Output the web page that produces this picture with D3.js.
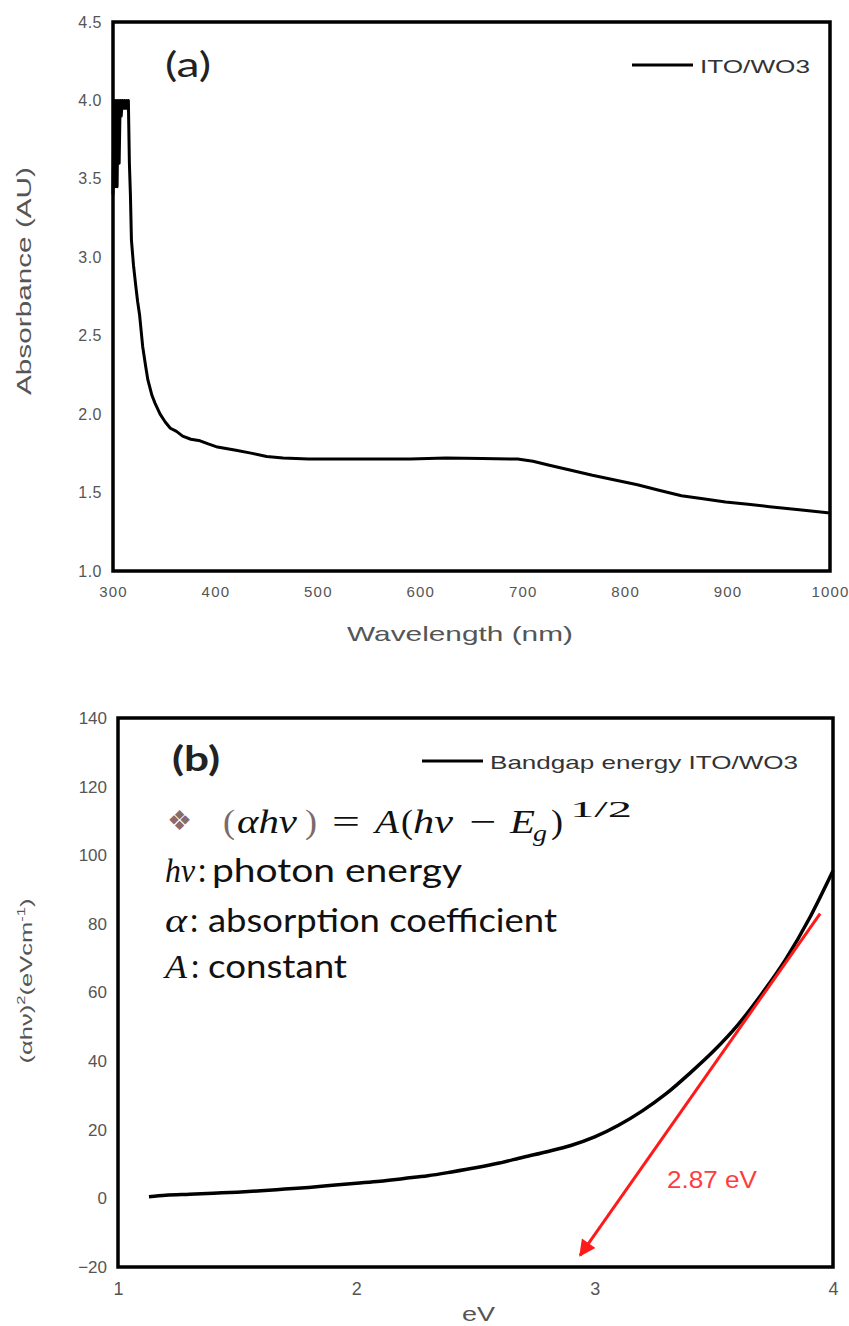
<!DOCTYPE html>
<html>
<head>
<meta charset="utf-8">
<script src="https://cdn.jsdelivr.net/npm/d3@7"></script>
<style>
  body { margin: 0; background: #fff; }
  .tick text { fill: #555; font-family: "Liberation Sans", Arial, sans-serif; }
  .lbl { fill: #555; font-family: "Liberation Sans", Arial, sans-serif; }
</style>
</head>
<body>
<svg id="graph" width="849" height="1326"></svg>
<script>
// ---- panel (a) absorbance data ----
var wavelength = [300,301,302,303,304,305,306,307,308,309,310,311,312,313,314,315,316,317,318,320,322,324,326,329,332,334,338,341,346,351,356,362,368,376,385,393,402,420,436,450,466,491,520,552,590,625,660,695,710,725,745,768,790,812,833,855,876,898,920,941,970,1000]
var absorbance = [3.40,4.0,3.45,4.0,3.45,4.0,3.6,4.0,3.9,4.0,3.95,4.0,3.95,4.0,3.95,4.0,3.6,3.40,3.11,2.95,2.83,2.72,2.63,2.43,2.30,2.22,2.12,2.07,2.00,1.95,1.91,1.89,1.86,1.84,1.83,1.81,1.79,1.77,1.75,1.73,1.72,1.714,1.714,1.714,1.714,1.72,1.717,1.714,1.70,1.676,1.645,1.61,1.58,1.55,1.515,1.48,1.46,1.44,1.425,1.41,1.39,1.37]
var xTicksA = [300,400,500,600,700,800,900,1000]
var yTicksA = [1.0,1.5,2.0,2.5,3.0,3.5,4.0,4.5]

// ---- panel (b) bandgap data ----
var energy = [1.13,1.2,1.3,1.4,1.5,1.6,1.7,1.8,1.9,2.0,2.1,2.2,2.3,2.4,2.5,2.6,2.7,2.8,2.9,3.0,3.1,3.2,3.3,3.4,3.5,3.6,3.7,3.8,3.9,4.0]
var ahv2 = [0.5,0.9,1.2,1.5,1.8,2.2,2.7,3.2,3.8,4.4,5.0,5.8,6.6,7.7,8.9,10.3,12.0,13.6,15.4,17.9,21.3,25.5,30.5,36.5,43.0,50.5,59.5,69.5,81.5,95.5]
var xTicksB = [1,2,3,4]
var yTicksB = [-20,0,20,40,60,80,100,120,140]
var tangent = [[3.946,83.0],[2.939,-16.6]]

var svg = d3.select("#graph")

function stretchText(x, y, str, size, len, font){
  return svg.append("text")
    .attr("x",x).attr("y",y)
    .attr("textLength",len).attr("lengthAdjust","spacingAndGlyphs")
    .style("font-family",font).style("font-size",size+"px")
    .text(str)
}

// ================= panel (a) =================
var xA = d3.scaleLinear().domain([300,1000]).range([113,830])
var yA = d3.scaleLinear().domain([1.0,4.5]).range([571,22])

svg.append("g")
  .call(d3.axisLeft(yA).tickValues(yTicksA).tickFormat(d3.format(".1f")).tickSize(0).tickPadding(11))
  .call(g=>g.select(".domain").remove())
  .selectAll("text").style("font-size","16px").style("letter-spacing","0.5px")
  .attr("transform","translate(113,0)")

svg.append("g")
  .attr("transform","translate(0,571)")
  .call(d3.axisBottom(xA).tickValues(xTicksA).tickFormat(d3.format("d")).tickSize(0).tickPadding(15))
  .call(g=>g.select(".domain").remove())
  .selectAll("text").style("font-size","15px").style("letter-spacing","1.2px")

var lineA = d3.line().x((d,i)=>xA(wavelength[i])).y(d=>yA(d))
svg.append("path")
  .datum(absorbance)
  .attr("d",lineA)
  .attr("fill","none")
  .attr("stroke","#000")
  .attr("stroke-width",3)
  .attr("stroke-linejoin","round")

svg.append("rect")
  .attr("x",113).attr("y",22)
  .attr("width",717).attr("height",549)
  .attr("fill","none").attr("stroke","#000").attr("stroke-width",3.5)

stretchText(165,77,"(a)",34,46,"Lato, 'Open Sans', sans-serif").style("fill","#222")

svg.append("line")
  .attr("x1",632).attr("x2",693).attr("y1",65).attr("y2",65)
  .attr("stroke","#000").attr("stroke-width",3)
stretchText(700,73,"ITO/WO3",18,110,"'Liberation Sans', Arial, sans-serif").style("fill","#333")

stretchText(347,641,"Wavelength (nm)",21,226,"'Liberation Sans', Arial, sans-serif").style("fill","#555")

svg.append("text")
  .attr("class","lbl")
  .attr("transform","translate(31,281) rotate(-90)")
  .attr("text-anchor","middle")
  .attr("textLength",228).attr("lengthAdjust","spacingAndGlyphs")
  .text("Absorbance (AU)")
  .style("font-size","21px")

// ================= panel (b) =================
var xB = d3.scaleLinear().domain([1,4]).range([118,833])
var yB = d3.scaleLinear().domain([-20,140]).range([1267,718])

svg.append("g")
  .call(d3.axisLeft(yB).tickValues(yTicksB).tickSize(0).tickPadding(11))
  .call(g=>g.select(".domain").remove())
  .selectAll("text").style("font-size","17px")
  .attr("transform","translate(118,0)")

svg.append("g")
  .attr("transform","translate(0,1267)")
  .call(d3.axisBottom(xB).tickValues(xTicksB).tickFormat(d3.format("d")).tickSize(0).tickPadding(15))
  .call(g=>g.select(".domain").remove())
  .selectAll("text").style("font-size","18px")

var lineB = d3.line().x((d,i)=>xB(energy[i])).y(d=>yB(d)).curve(d3.curveMonotoneX)
svg.append("path")
  .datum(ahv2)
  .attr("d",lineB)
  .attr("fill","none")
  .attr("stroke","#000")
  .attr("stroke-width",3.5)
  .attr("stroke-linejoin","round")

svg.append("defs").append("marker")
  .attr("id","arrow")
  .attr("viewBox","0 0 10 10")
  .attr("refX",9).attr("refY",5)
  .attr("markerWidth",7).attr("markerHeight",5.5)
  .attr("orient","auto")
  .append("path").attr("d","M0,0 L10,5 L0,10 z").attr("fill","#ff1a1a")

svg.append("line")
  .attr("x1",xB(tangent[0][0])).attr("y1",yB(tangent[0][1]))
  .attr("x2",xB(tangent[1][0])).attr("y2",yB(tangent[1][1]))
  .attr("stroke","#ff1a1a").attr("stroke-width",3)
  .attr("marker-end","url(#arrow)")

stretchText(667,1188,"2.87 eV",23,90,"'Liberation Sans', Arial, sans-serif").style("fill","#ff3b3b")

svg.append("rect")
  .attr("x",118).attr("y",718)
  .attr("width",715).attr("height",549)
  .attr("fill","none").attr("stroke","#000").attr("stroke-width",3.5)

stretchText(172,771,"(b)",34,48,"Lato, 'Open Sans', sans-serif")
  .style("font-weight","bold").style("fill","#222")

svg.append("line")
  .attr("x1",422).attr("x2",483).attr("y1",761).attr("y2",761)
  .attr("stroke","#000").attr("stroke-width",3)
stretchText(490,769,"Bandgap energy ITO/WO3",19,308,"'Liberation Sans', Arial, sans-serif").style("fill","#333")

// formula block
var mathFont = "'Liberation Serif', 'DejaVu Serif', serif"
var textFont = "Lato, 'Open Sans', sans-serif"

svg.append("text")
  .attr("x",167).attr("y",830)
  .text("❖")
  .style("font-size","28px")
  .style("fill","#8a6a6a")

var pieces = [
  ["(",223,833,34,false,"#7a6a6a",12],
  ["αhν",237,833,34,true,"#111",60],
  [")",305,833,34,false,"#7a6a6a",12],
  ["=",332,833,34,false,"#111",28],
  ["A",375,833,34,true,"#111",24],
  ["(",401,833,34,false,"#111",12],
  ["hν",413,833,34,true,"#111",40],
  ["−",469,833,34,false,"#111",27],
  ["E",510,833,34,true,"#111",25],
  ["g",533,841,24,true,"#111",14],
  [")",551,833,34,false,"#111",12],
  ["1/2",570,817,24,false,"#111",62]
]
pieces.forEach(function(p){
  svg.append("text")
    .attr("x",p[1]).attr("y",p[2])
    .attr("textLength",p[6]).attr("lengthAdjust","spacingAndGlyphs")
    .style("font-family",mathFont)
    .style("font-size",p[3]+"px")
    .style("font-style",p[4]?"italic":"normal")
    .style("fill",p[5])
    .text(p[0])
})

var defs = [
  ["hν",165,30,":",198,"photon energy",212,250,882],
  ["α",165,22,":",190,"absorption coefficient",208,349,932],
  ["A",165,22,":",191,"constant",208,139,978]
]
defs.forEach(function(r){
  svg.append("text").attr("x",r[1]).attr("y",r[8])
    .attr("textLength",r[2]).attr("lengthAdjust","spacingAndGlyphs")
    .style("font-family",mathFont).style("font-style","italic").style("font-size","34px").style("fill","#111")
    .text(r[0])
  svg.append("text").attr("x",r[4]).attr("y",r[8])
    .style("font-family",textFont).style("font-size","33px").style("fill","#111")
    .text(r[3])
  stretchText(r[6],r[8],r[5],33,r[7],textFont).style("fill","#111")
})

stretchText(462,1321,"eV",21,33,"'Liberation Sans', Arial, sans-serif").style("fill","#555")

var yl = svg.append("text")
  .attr("class","lbl")
  .attr("transform","translate(32,981) rotate(-90)")
  .attr("text-anchor","middle")
  .attr("textLength",165).attr("lengthAdjust","spacingAndGlyphs")
  .style("font-size","17px")
yl.append("tspan").text("(αhν)")
yl.append("tspan").text("2").style("font-size","11px").attr("dy",-7)
yl.append("tspan").text("(eVcm").attr("dy",7)
yl.append("tspan").text("-1").style("font-size","11px").attr("dy",-7)
yl.append("tspan").text(")").attr("dy",7)
</script>
</body>
</html>
